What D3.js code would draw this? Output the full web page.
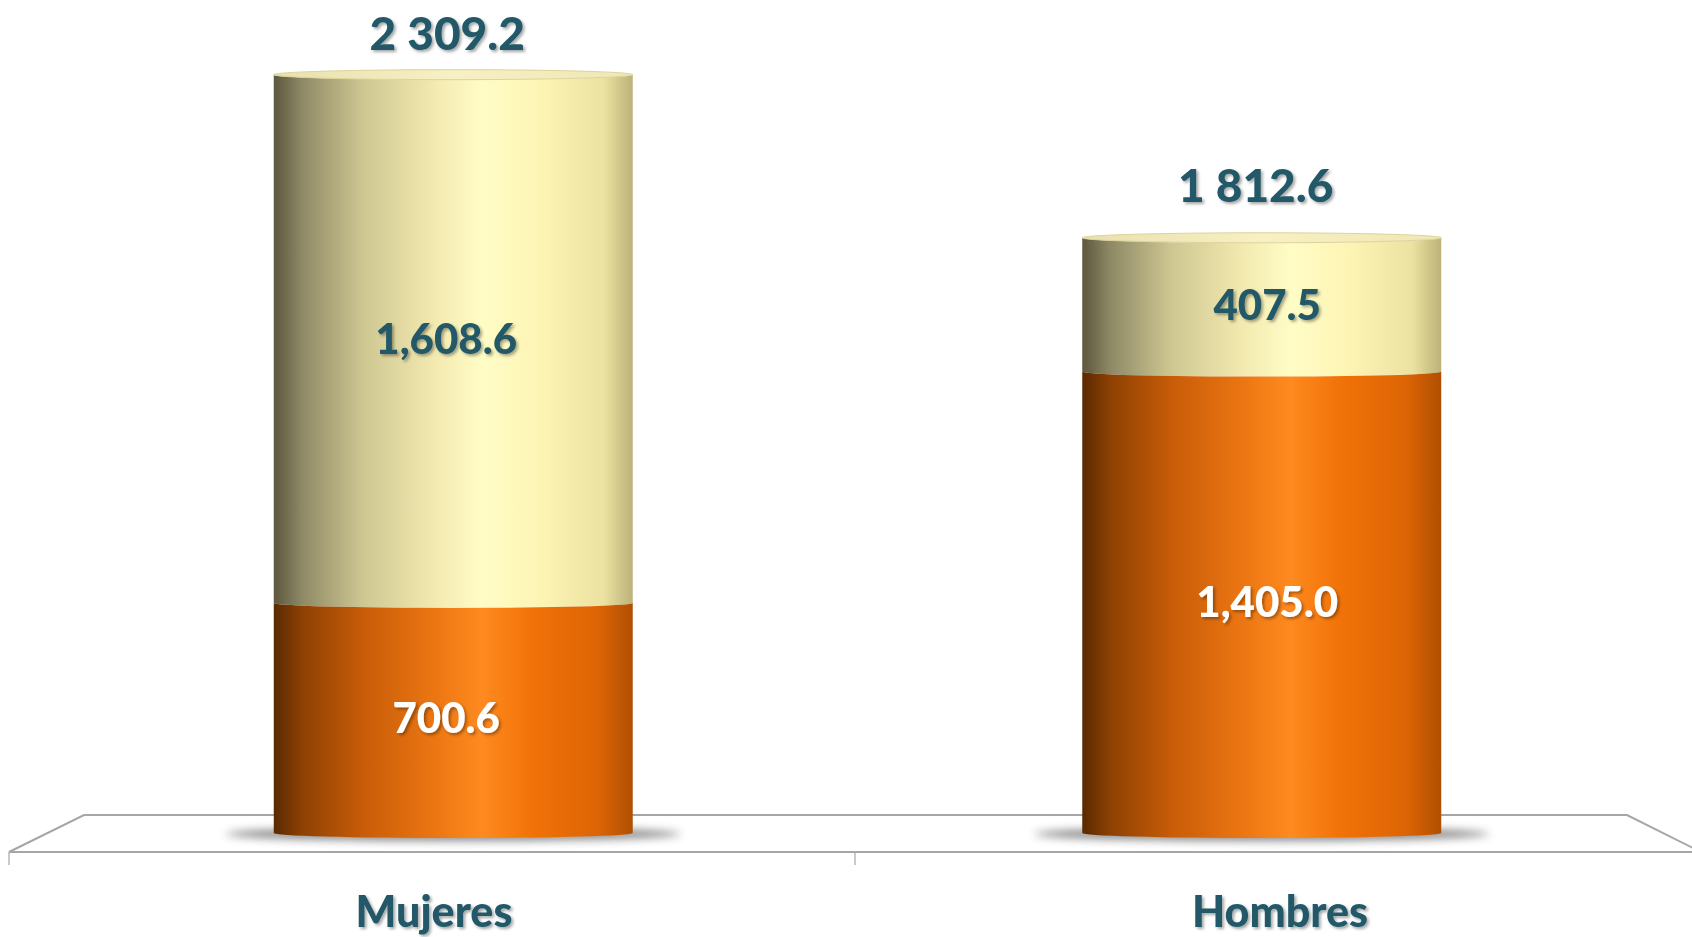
<!DOCTYPE html>
<html>
<head>
    <meta charset="utf-8">
    <style>
        body { margin: 0; background: #fff; }
        svg { display: block; }
        .lbl { font-family: Lato, 'Open Sans', Arial, sans-serif; font-weight: 900; }
    </style>
</head>
<body>
<svg width="1692" height="937"></svg>

<script src="https://d3js.org/d3.v7.min.js"></script>
<script>
    //------------------------ DATA ------------------------//
    let categories = ["Mujeres", "Hombres"];
    let bottomValues = [700.6, 1405.0];   // orange segment
    let topValues = [1608.6, 407.5];      // light segment
    let totals = [2309.2, 1812.6];        // labels over the bars

    //------------------------ SETUP ------------------------//
    let width = 1692, height = 937;
    let svg = d3.select("svg");

    let baseY = 833;
    let y = d3.scaleLinear().domain([0, 2500]).range([baseY, 12]);
    // bars sit at mid depth of the floor, labels on the front edge
    let x = d3.scaleBand().domain(categories).range([49, 1666]).padding(0);
    let xFront = d3.scaleBand().domain(categories).range([9, 1701]).padding(0);
    let barW = x.bandwidth() * 0.444;
    let ry = 5;

    let fmtComma = d3.format(",.1f");
    let fmtSpace = d3.formatLocale({decimal: ".", thousands: " ", grouping: [3], currency: ["", ""]}).format(",.1f");

    let defs = svg.append("defs");

    function grad(id, stops) {
        let g = defs.append("linearGradient").attr("id", id)
            .attr("x1", 0).attr("x2", 1).attr("y1", 0).attr("y2", 0);
        stops.forEach(s => g.append("stop").attr("offset", s[0]).attr("stop-color", s[1]));
    }
    grad("orange", [[0, "#5a2900"], [0.08, "#8e4103"], [0.25, "#c85c08"], [0.45, "#ec7612"], [0.58, "#ff8a1f"], [0.72, "#f07208"], [0.9, "#de6505"], [1, "#b04f02"]]);
    grad("light", [[0, "#5c573e"], [0.08, "#8f8a66"], [0.25, "#cfc792"], [0.45, "#f3eab0"], [0.58, "#fffcc6"], [0.75, "#fdf4b3"], [0.92, "#ebe1a0"], [1, "#bcb178"]]);
    grad("topface", [[0, "#e8e0ae"], [0.5, "#f7f0c2"], [1, "#efe7b4"]]);

    let shadowBlur = defs.append("filter").attr("id", "blur")
        .attr("x", "-20%").attr("y", "-200%").attr("width", "140%").attr("height", "500%");
    shadowBlur.append("feGaussianBlur").attr("stdDeviation", 4);

    let txtShadow = defs.append("filter").attr("id", "tshadow")
        .attr("x", "-10%").attr("y", "-20%").attr("width", "130%").attr("height", "150%");
    txtShadow.append("feDropShadow").attr("dx", 2).attr("dy", 2).attr("stdDeviation", 1.5)
        .attr("flood-color", "#000").attr("flood-opacity", 0.35);

    //------------------------ FLOOR ------------------------//
    let backY = 815, frontY = 852;
    let floor = svg.append("g").style("stroke", "#a6a6a6").style("stroke-width", 2).style("fill", "none");
    floor.append("path")
        .attr("d", `M9,${frontY} L84,${backY} L1627,${backY} L1701,${frontY}`);
    floor.append("line").attr("x1", 9).attr("x2", 1701).attr("y1", frontY).attr("y2", frontY);
    // ticks between categories
    let ticks = categories.map(d => xFront(d)).concat([xFront.range()[1]]);
    ticks.forEach(t => {
        floor.append("line").attr("x1", t).attr("x2", t).attr("y1", frontY).attr("y2", frontY + 13)
            .style("stroke-width", 1.2);
    });

    //------------------------ BARS ------------------------//
    let cx = d => x(d) + x.bandwidth() / 2;
    let fx = d => xFront(d) + xFront.bandwidth() / 2;

    // shadows under the cylinders
    svg.append("g").selectAll("ellipse")
        .data(categories)
        .join("ellipse")
        .attr("cx", d => cx(d))
        .attr("cy", baseY + 1)
        .attr("rx", barW / 2 + 48)
        .attr("ry", 7)
        .style("fill", "#6e6e6e")
        .style("opacity", 0.8)
        .attr("filter", "url(#blur)");

    function cyl(x0, x1, yt, yb) {
        let rx = (x1 - x0) / 2;
        return `M${x0},${yt} L${x0},${yb} A${rx},${ry} 0 0 0 ${x1},${yb} L${x1},${yt} A${rx},${ry} 0 0 1 ${x0},${yt} Z`;
    }

    let bars = svg.append("g").selectAll("g")
        .data(categories)
        .join("g");

    // light (upper) segment
    bars.append("path")
        .attr("d", (d, i) => {
            let x0 = cx(d) - barW / 2;
            return cyl(x0, x0 + barW, y(bottomValues[i] + topValues[i]), y(bottomValues[i]));
        })
        .style("fill", "url(#light)");

    // orange (lower) segment
    bars.append("path")
        .attr("d", (d, i) => {
            let x0 = cx(d) - barW / 2;
            return cyl(x0, x0 + barW, y(bottomValues[i]), y(0));
        })
        .style("fill", "url(#orange)");

    // top face
    bars.append("ellipse")
        .attr("cx", d => cx(d))
        .attr("cy", (d, i) => y(bottomValues[i] + topValues[i]))
        .attr("rx", barW / 2)
        .attr("ry", ry)
        .style("fill", "url(#topface)")
        .style("stroke", "#ddd39c")
        .style("stroke-width", 1);

    //------------------------ LABELS ------------------------//
    let segX = d => cx(d) + (fx(d) - cx(d)) / 3;

    // segment values
    bars.append("text")
        .attr("class", "lbl")
        .attr("x", d => segX(d))
        .attr("y", (d, i) => y(bottomValues[i] / 2))
        .attr("dy", "0.36em")
        .attr("text-anchor", "middle")
        .style("font-size", "42px")
        .style("fill", "#ffffff")
        .attr("filter", "url(#tshadow)")
        .text((d, i) => fmtComma(bottomValues[i]));

    bars.append("text")
        .attr("class", "lbl")
        .attr("x", d => segX(d))
        .attr("y", (d, i) => y(bottomValues[i] + topValues[i] / 2))
        .attr("dy", "0.36em")
        .attr("text-anchor", "middle")
        .style("font-size", "42px")
        .style("fill", "#215968")
        .attr("filter", "url(#tshadow)")
        .text((d, i) => fmtComma(topValues[i]));

    // totals
    bars.append("text")
        .attr("class", "lbl")
        .attr("x", d => cx(d) - 6)
        .attr("y", (d, i) => Math.max(y(totals[i]) - 52, 33))
        .attr("dy", "0.36em")
        .attr("text-anchor", "middle")
        .style("font-size", "46px")
        .style("fill", "#215968")
        .attr("filter", "url(#tshadow)")
        .text((d, i) => fmtSpace(totals[i]));

    // category labels
    svg.append("g").selectAll("text")
        .data(categories)
        .join("text")
        .attr("class", "lbl")
        .attr("x", d => fx(d) + 2)
        .attr("y", 912)
        .attr("dy", "0.36em")
        .attr("text-anchor", "middle")
        .style("font-size", "43px")
        .style("fill", "#215968")
        .attr("filter", "url(#tshadow)")
        .text(d => d);
</script>
</body>
</html>
